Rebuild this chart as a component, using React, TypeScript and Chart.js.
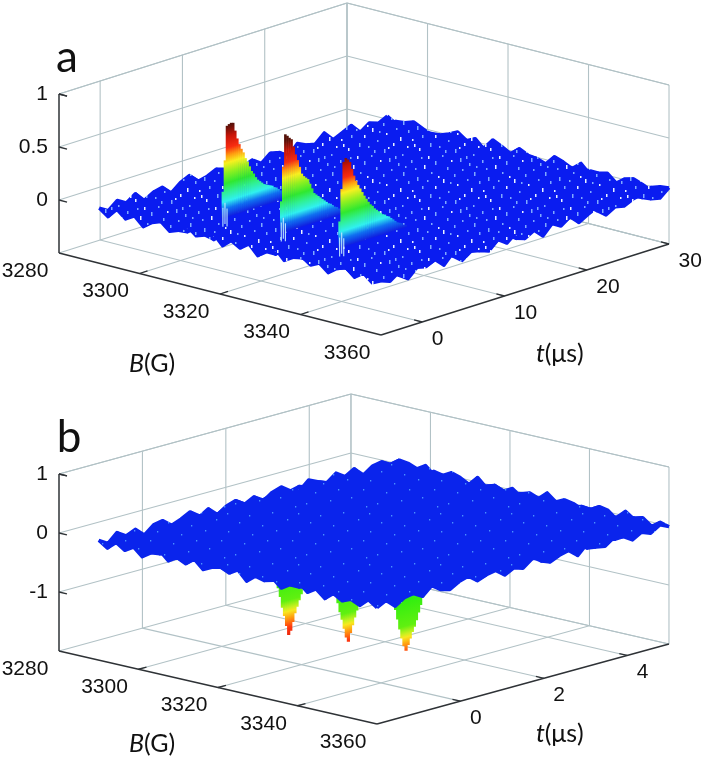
import React, { useEffect, useRef } from "react";
import { Chart, registerables } from "chart.js";
Chart.register(...registerables);

const bTicks = [3280, 3300, 3320, 3340, 3360];
const tTicksA = [0, 10, 20, 30];
const tTicksB = [0, 2, 4];
const zTicksA = [0, 0.5, 1];
const zTicksB = [-1, 0, 1];
const peakFieldsB = [3310.5, 3325, 3339.5];

// decay profiles of panel a, one value each 0.25 us from t = 0
const peakA1 = [.25,.54,.86,.87,.876,.87,.79,.71,.65,.6,.56,.5,.46,.41,.36,.33,.29,.26,.24,.22,.2,.19,.18,.17,.16,.14,.13,.11,.09,.07,.05,.04,.03];
const peakA2 = [.3,.62,.92,.9,.875,.855,.78,.7,.64,.57,.5,.47,.45,.43,.38,.33,.28,.26,.24,.22,.2,.18,.16,.14,.13,.11,.09,.08,.06,.05,.04,.03,.02];
const peakA3 = [.25,.55,.8,.83,.81,.78,.71,.64,.585,.54,.5,.46,.42,.385,.35,.32,.3,.27,.25,.23,.21,.19,.18,.16,.15,.13,.11,.09,.07,.06,.05,.03,.02];
// panel b, one value each 0.05 us from t = 0.3
const peakB1 = [-.7,-.92,-1.08,-1.27,-1.42,-1.6,-1.76,-1.7,-1.56,-1.42,-1.32,-1.22,-1.13,-1.05,-.95,-.82,-.7];
const peakB2 = [-.6,-.78,-.96,-1.12,-1.26,-1.42,-1.58,-1.66,-1.52,-1.4,-1.28,-1.17,-1.08,-.95,-.8,-.65,-.5];
const peakB3 = [-.55,-.72,-.85,-1.02,-1.2,-1.36,-1.5,-1.59,-1.5,-1.4,-1.3,-1.22,-1.12,-1,-.88,-.76,-.6];
// pale spikes at the rising edge of the peaks in panel a: t, lower z, upper z
const edgeSpikes = [[0, -.08, .1], [.25, -.06, .14], [.5, -.09, .08]];

// baseline of each surface, hundredths of a z unit; rows along B, columns along t
const surfaceA = [
[2,-3,4,-1,5,-4,1,3,-5,2,6,-2,0,4,-3,5,-1,2,-4,3,1,-5,4,0,-2,6,-3,1,5,-4,2,-1,3],
[-4,3,-2,6,0,-3,5,-1,2,-5,3,1,-4,6,2,-2,4,-5,1,3,-1,5,-3,2,6,-4,0,3,-2,4,-5,1,-2],
[5,-1,3,-5,2,4,-3,6,-2,1,-4,5,2,-1,3,-6,0,4,-2,5,-3,1,6,-4,2,-1,3,-5,4,0,-3,5,1],
[-2,4,-6,1,3,-2,5,-4,0,6,-1,3,-5,2,4,-3,6,-1,2,-4,5,0,-3,4,-2,5,1,-4,3,-6,2,-1,4],
[3,0,5,-3,-1,6,-4,2,5,-2,4,-6,1,3,-1,5,-3,2,6,-5,0,3,-2,5,-4,1,4,-1,-3,5,2,-4,0],
[-5,2,-1,4,6,-3,1,-2,4,-5,2,6,-3,0,5,-2,3,-4,1,4,-1,6,-5,2,3,-3,5,0,-2,4,-1,3,-4],
[1,6,-3,2,-5,4,0,5,-1,3,-4,1,5,-2,-3,6,-1,4,-5,2,3,-2,5,-1,-4,6,2,-3,1,-5,4,2,-2],
[4,-2,1,-4,3,-1,6,-3,2,-6,5,0,-2,4,1,-4,5,-3,3,-1,6,-4,0,3,5,-2,-1,4,-5,2,6,-3,1],
[-3,5,-2,0,4,-5,2,3,-4,1,6,-3,4,-1,-2,5,2,-5,4,0,-3,6,1,-4,2,5,-1,3,-6,1,4,-2,5],
[0,-4,6,3,-2,1,-5,4,6,-1,-3,5,2,-4,3,0,-6,5,1,-2,4,-3,5,2,-5,3,6,-2,1,-4,3,5,-1],
[6,1,-3,5,-4,2,3,-1,-5,4,2,-2,6,1,-4,3,5,-1,-3,6,-2,4,-5,0,3,-1,4,-5,2,6,-3,0,3],
[-1,3,5,-5,1,6,-2,0,4,-3,5,1,-4,3,6,-5,2,-1,4,-3,5,1,-2,6,-4,2,0,5,-3,3,-1,4,-5],
[2,-5,0,4,-2,3,5,-4,1,6,-2,-3,5,0,-1,4,-3,6,-5,2,1,-4,3,5,-1,-3,6,-2,4,-4,2,1,6],
[5,3,-4,-1,6,-3,1,4,-2,0,3,-5,4,2,-6,1,5,-2,3,-4,6,0,-1,4,2,-5,3,1,-3,5,-1,-4,2],
[-4,1,6,-2,3,5,-5,2,0,-3,6,4,-1,-4,5,2,-3,4,-1,5,-5,3,6,-2,1,4,-4,0,5,-2,3,6,-3],
[3,-1,2,5,-5,0,4,-3,6,1,-4,3,-2,5,-1,4,0,-5,6,-3,2,4,-4,1,5,-2,3,-1,-5,6,0,2,4],
[-2,6,-3,1,4,-4,2,5,-1,3,-5,0,6,-3,2,-4,5,3,-2,1,-6,5,2,-1,4,-3,5,2,-4,1,3,-5,0],
[4,0,5,-4,2,6,-1,-3,5,-2,1,4,-6,3,0,5,-1,-4,6,2,-3,1,-5,4,3,-1,6,-3,0,5,-2,4,-1],
[-5,3,-1,6,-3,1,5,-4,2,4,-1,6,-2,-3,5,1,-5,3,4,-1,5,-2,3,0,-4,6,1,-2,5,-3,4,1,-4],
[1,-4,4,2,-5,3,-2,6,0,-4,5,2,-3,6,-1,-5,4,2,-2,5,-1,6,-4,3,1,-3,5,-5,2,4,0,-3,5],
[6,2,-2,5,0,-3,4,1,-5,3,-1,5,1,-4,3,6,-2,0,5,-5,3,-1,4,-2,6,0,-4,3,5,-1,-3,6,2],
[-3,5,1,-4,6,2,-5,3,4,-2,6,-4,2,5,-3,1,4,-6,2,3,-1,5,0,-5,3,5,-2,4,-1,-4,6,1,-2],
[2,-1,6,-3,1,5,-2,-4,3,5,0,-3,6,-1,4,-5,2,5,-3,1,6,-4,2,5,-1,-3,4,0,3,-5,2,-1,5],
[5,-3,0,4,-5,2,6,1,-3,4,-5,2,3,-2,5,0,-4,6,1,-3,4,2,-5,3,-2,6,1,-4,5,2,-2,4,-3],
[-1,4,-5,2,3,-4,0,5,-1,6,2,-3,5,-4,1,3,6,-2,-5,4,0,5,-3,1,4,-5,2,6,-1,3,-4,5,0],
[3,-2,5,-1,6,-3,4,2,-5,1,-2,6,-1,3,-4,5,-2,4,2,-5,6,-1,3,-3,5,1,-2,4,-6,0,5,-3,2],
[-4,6,1,-3,2,5,-5,3,4,-1,5,-4,2,0,6,-3,1,-5,5,3,-2,4,-4,6,0,-2,5,-3,2,5,-1,3,-5],
[2,0,-4,5,-1,3,6,-2,1,-5,3,4,-3,6,-2,1,5,-4,0,6,-3,2,5,-1,-4,3,6,1,-5,3,4,-2,1],
[5,-5,3,1,-3,6,-1,4,-4,2,6,-2,5,1,-5,4,-1,3,-3,5,1,-5,2,4,-2,6,-3,2,4,-1,-4,5,3],
[-2,3,-1,6,4,-4,2,-3,5,0,-5,3,-1,4,2,-2,6,-5,4,1,-3,6,0,-4,5,2,-1,4,-5,6,2,-3,0],
[4,1,-5,2,-2,5,3,-5,1,6,-3,4,2,-4,5,-1,3,1,-6,4,3,-2,5,1,-3,4,-5,3,0,-2,5,1,-4],
[-3,5,2,-4,6,-1,-3,4,2,-2,5,-1,6,-5,3,2,-4,5,1,-3,6,-4,2,-1,5,-2,3,6,-4,1,-3,4,2],
[1,-2,4,-5,3,1,5,-3,6,-4,2,0,-3,5,-1,6,-2,3,-5,4,-1,5,-3,2,6,-4,1,-1,3,5,-2,-4,3],
];
const surfaceB = [
[3,-6,8,-2,5,-9,4,7,-5,1,9,-4,6,-8,2,7,-3,5,-7,4,9,-2,-6,8,1,-5,7,-3,6,-9,2,5,-4],
[-7,4,-3,9,-5,2,8,-6,3,-9,6,1,-4,8,-2,5,-8,3,7,-1,-6,9,4,-7,2,6,-3,8,-5,1,-8,4,7],
[6,-2,9,-7,1,8,-4,3,-8,5,-2,7,-9,4,6,-3,1,8,-5,3,-7,2,9,-4,5,-1,-8,6,3,-6,7,-2,5],
[-4,8,-1,3,-8,6,2,-7,9,-3,4,-6,8,1,-5,9,-7,2,6,-4,5,-9,3,7,-2,8,-6,1,9,-3,-7,5,-1],
[5,1,-7,6,-3,9,-5,4,-1,7,-8,3,2,-6,9,-2,4,-9,1,8,-3,6,-5,2,-8,4,9,-1,-4,7,3,-6,8],
[-8,6,3,-5,8,-1,-6,9,2,-4,6,-9,5,7,-3,1,-6,7,4,-8,2,5,-2,9,-6,3,-4,7,-9,2,6,-1,-5],
[2,-4,7,1,-9,4,6,-3,5,-8,2,8,-1,-5,4,9,-7,-2,6,3,-9,8,1,-5,7,-3,5,-7,1,8,-4,9,-2],
[9,-1,-5,8,3,-6,1,7,-9,4,-2,6,-7,3,8,-5,2,6,-3,-7,5,1,-8,6,2,-9,4,3,-6,5,-2,-8,6],
[-5,7,2,-8,4,5,-9,2,6,-3,8,-5,1,9,-6,3,-1,-8,7,4,-2,9,-6,3,-4,8,-1,5,-7,2,9,-3,1],
[4,-9,6,-1,-4,8,3,-6,1,9,-7,2,5,-3,-8,6,7,-4,2,-9,6,3,-5,8,1,-6,9,-2,4,-8,3,6,-7],
[-3,2,8,-6,7,-2,5,-8,4,-1,3,9,-6,2,7,-4,-9,5,1,8,-5,-3,7,-1,6,-8,2,9,-4,6,-1,-5,8],
[8,-5,1,4,-7,6,-3,9,-2,-6,7,-4,3,-9,5,1,8,-2,-6,3,9,-7,2,5,-3,7,-9,4,1,-5,8,2,-6],
[-6,3,-8,9,2,-5,8,-1,-7,5,1,-3,9,6,-2,-7,4,9,-5,-1,6,4,-8,3,9,-2,5,-6,8,-3,-7,4,1],
[1,7,-4,-2,6,-9,3,5,-4,8,-6,2,-1,7,-8,4,5,-3,8,-6,2,-4,9,-7,1,6,-3,-8,3,7,-2,9,-5],
[5,-8,3,7,-6,1,-2,8,6,-9,2,5,-7,4,-1,9,-5,3,-8,6,1,-9,5,2,-6,4,8,-1,-5,9,4,-6,3],
[-2,6,-9,1,4,7,-8,-3,5,3,-7,8,4,-5,2,-9,6,1,-4,7,-3,8,-1,-6,5,-9,3,7,-2,-4,6,1,-8],
[7,-3,5,-7,9,-4,2,6,-1,-8,4,-2,9,-6,3,7,-2,-8,5,3,-6,2,6,-5,9,1,-7,4,-3,8,-9,5,2],
[-9,4,1,6,-2,-6,8,-5,3,7,-4,1,-8,5,6,-3,9,-7,2,-1,8,-5,3,7,-4,2,6,-9,5,1,-3,7,-4],
[3,8,-6,-3,5,2,-7,4,9,-5,1,6,-3,-9,7,2,-5,4,8,-6,3,-2,9,-8,4,-1,5,2,-7,6,-4,-1,9],
[-1,-5,7,4,-9,8,1,-6,2,-3,9,-7,5,3,-4,8,-1,-6,3,9,-8,6,-4,1,7,-5,-2,8,3,-9,5,7,-3],
[6,2,-3,8,-5,-1,7,3,-9,6,-2,4,-6,8,1,-5,4,7,-9,2,5,-3,8,-6,2,9,-4,1,-8,6,2,-5,4],
[-7,5,9,-4,2,6,-8,4,1,-5,8,-1,3,-7,9,-2,6,-3,5,-8,1,7,-2,4,-9,3,7,-5,6,-2,8,-6,1],
[2,-6,3,1,-8,5,-3,9,-6,7,2,-9,6,4,-3,-7,8,1,-5,6,-4,9,-7,3,5,-1,-8,4,2,-6,9,3,-5],
[9,-2,-7,6,3,-4,7,-1,4,-8,5,3,-2,-6,8,5,-9,3,7,-2,-7,2,6,-5,1,8,-3,6,-9,4,-1,7,-2],
[-4,7,4,-9,1,8,-5,2,-7,3,9,-4,7,-1,-5,2,6,-8,-1,9,4,-6,3,8,-7,5,-2,-4,7,1,-8,5,6],
[5,-3,-6,2,7,-2,6,-9,8,-1,-5,6,1,-8,4,-3,9,5,-6,3,-9,7,1,-3,6,-8,4,9,-5,-2,6,-7,3],
[-8,1,8,-5,4,-7,3,5,-3,6,-9,2,8,5,-6,7,-4,1,8,-3,5,-1,-7,9,2,-4,6,-2,1,7,-6,3,-9],
[4,6,-2,9,-6,1,-4,7,2,-5,4,7,-3,-9,3,6,-1,-7,2,5,-8,6,4,-5,8,-6,1,7,-3,-8,4,2,8],
[-5,-1,7,-4,8,3,-9,1,6,-7,3,-2,9,2,-5,8,-6,4,-3,9,1,-4,7,-9,3,5,-7,2,8,-1,5,-6,-2],
[1,9,-8,3,-2,6,5,-7,4,8,-6,1,-4,7,-8,3,5,-9,6,-2,7,-5,2,6,-2,9,-4,-6,4,3,-9,8,4],
[-6,3,5,-7,6,-3,-5,8,-2,4,7,-8,5,-1,2,9,-3,6,-7,1,4,8,-6,-1,7,-3,5,8,-5,6,1,-4,-7],
[7,-4,2,6,-1,8,-7,3,9,-6,1,4,-9,6,3,-5,7,-2,3,-8,6,-3,9,2,-7,4,-1,-5,9,-3,7,-2,3],
[-3,5,-9,1,4,-5,9,-2,-6,3,8,-4,2,5,-7,1,-4,8,4,-6,1,5,-8,7,-2,-5,6,3,-7,2,-4,6,-1],
];

// mesh-gap texture of each surface: x, y, height of a light fleck inside one tile
const flecksA = [[2,3,3],[5,19,2],[9,8,4],[9,33,3],[13,44,2],[16,2,2],[17,26,4],[21,14,3],[22,38,2],[25,7,2],[28,21,3],[29,47,4],[31,31,2],[34,5,4],[36,16,2],[38,41,3],[41,26,2],[43,10,3],[45,35,4],[47,1,2],[48,19,4],[52,44,2],[53,28,3],[56,7,3],[57,37,2],[60,15,2],[62,24,4],[64,46,3],[66,4,2],[67,33,3],[69,12,4],[1,27,2],[4,41,4],[12,23,2],[19,48,3],[24,29,2],[33,45,2],[40,3,3],[50,13,2],[59,42,3]];
const flecksB = [[3,9],[8,30],[14,3],[15,21],[22,44],[26,12],[31,33],[36,5],[39,24],[46,41],[49,15],[54,30],[59,2],[63,20],[67,38],[11,47]];

const panelA = {
  corner: [59, 253], perB: [4.025, 1.025], perT: [8.229, -2.6], perZ: -106,
  bMin: 3280, tMin: -5, tMax: 30, zMin: -0.5, zMax: 1,
  surfaceBMin: 3290, surfaceBMax: 3360,
  color: "#0a1cf0", width: 3.2, tStep: 0.25, tFirst: 0, stemWidth: 2.6, gradTo: 1,
  stops: [[0,"#1020e0"],[.08,"#1070f0"],[.15,"#30f0f0"],[.24,"#30f090"],[.32,"#30e830"],[.42,"#90f020"],[.51,"#f8f020"],[.58,"#ff9a10"],[.65,"#f82c10"],[.76,"#c81408"],[.86,"#5a1008"],[1,"#401008"]] as [number,string][],
};
const panelB = {
  corner: [59, 651], perB: [3.975, 0.9125], perT: [41.71, -11.43], perZ: -59,
  bMin: 3280, tMin: -2, tMax: 5, zMin: -2, zMax: 1,
  surfaceBMin: 3290, surfaceBMax: 3360,
  color: "#0a24ec", width: 3.2, tStep: 0.05, tFirst: 0.3, stemWidth: 3.2, gradTo: -1.9,
  stops: [[0,"#1430d8"],[-.55,"#30e8a0"],[-.72,"#30ee10"],[-1.17,"#60f010"],[-1.3,"#c8f020"],[-1.36,"#f8e820"],[-1.47,"#ffa010"],[-1.63,"#ff3810"],[-1.9,"#d81808"]] as [number,string][],
};

type Panel = typeof panelA;
const project = (p: Panel, B: number, t: number, z: number) => ({
  x: p.corner[0] + (B - p.bMin) * p.perB[0] + (t - p.tMin) * p.perT[0],
  y: p.corner[1] + (B - p.bMin) * p.perB[1] + (t - p.tMin) * p.perT[1] + (z - p.zMin) * p.perZ,
});

function tilePattern(base: string, draw: (c: CanvasRenderingContext2D) => void) {
  const tile = document.createElement("canvas");
  tile.width = 71;
  tile.height = 51;
  const c = tile.getContext("2d")!;
  c.fillStyle = base;
  c.fillRect(0, 0, 71, 51);
  draw(c);
  return c.createPattern(tile, "repeat")!;
}

const GRID = "#b2c2c6";
const AXIS = "#2e3236";
function segment(p: Panel, a: number[], b: number[], color: string, width: number) {
  return {
    data: [project(p, a[0], a[1], a[2]), project(p, b[0], b[1], b[2])],
    borderColor: color, borderWidth: width, pointRadius: 0, borderCapStyle: "butt",
  };
}
function frame(p: Panel, tTicks: number[], zTicks: number[]) {
  const out: any[] = [];
  const bMax = 3360;
  for (const z of [p.zMin, ...zTicks, p.zMax]) {
    out.push(segment(p, [p.bMin, p.tMin, z], [p.bMin, p.tMax, z], GRID, 1.1));
    out.push(segment(p, [p.bMin, p.tMax, z], [bMax, p.tMax, z], GRID, 1.1));
  }
  for (const t of [...tTicks, p.tMax]) {
    out.push(segment(p, [p.bMin, t, p.zMin], [p.bMin, t, p.zMax], GRID, 1.1));
    out.push(segment(p, [p.bMin, t, p.zMin], [bMax, t, p.zMin], GRID, 1.1));
  }
  for (const B of bTicks) {
    out.push(segment(p, [B, p.tMax, p.zMin], [B, p.tMax, p.zMax], GRID, 1.1));
    if (B > p.bMin && B < bMax) out.push(segment(p, [B, p.tMin, p.zMin], [B, p.tMax, p.zMin], GRID, 1.1));
  }
  return out;
}
function axes(p: Panel, tTicks: number[], zTicks: number[]) {
  const out: any[] = [];
  const bMax = 3360;
  const dT = 8 / p.perT[0];
  out.push(segment(p, [p.bMin, p.tMin, p.zMin], [bMax, p.tMin, p.zMin], AXIS, 1.5));
  out.push(segment(p, [bMax, p.tMin, p.zMin], [bMax, p.tMax, p.zMin], AXIS, 1.5));
  out.push(segment(p, [p.bMin, p.tMin, p.zMin], [p.bMin, p.tMin, p.zMax], AXIS, 1.5));
  for (const z of [...zTicks, p.zMax]) out.push(segment(p, [p.bMin, p.tMin, z], [p.bMin + 2, p.tMin, z], AXIS, 1.3));
  for (const B of bTicks.slice(1, -1)) out.push(segment(p, [B, p.tMin, p.zMin], [B, p.tMin + dT, p.zMin], AXIS, 1.3));
  for (const t of tTicks) out.push(segment(p, [bMax, t, p.zMin], [bMax - 2, t, p.zMin], AXIS, 1.3));
  return out;
}
function mesh(p: Panel, table: number[][], stroke: any) {
  const out: any[] = [];
  const nB = table.length, nT = table[0].length;
  const at = (i: number, j: number) => project(p,
    p.surfaceBMin + (i / (nB - 1)) * (p.surfaceBMax - p.surfaceBMin),
    p.tMin + (j / (nT - 1)) * (p.tMax - p.tMin),
    (table[i][j] ?? 0) / 100);
  const line = (data: any[]) => ({ data, borderColor: stroke, borderWidth: p.width, pointRadius: 0, borderJoinStyle: "round", tension: 0 });
  // the sheet under the mesh follows the outer edge of the table
  const rim: any[] = [];
  for (let j = 0; j < nT; j++) rim.push(at(0, j));
  for (let i = 1; i < nB; i++) rim.push(at(i, nT - 1));
  for (let j = nT - 2; j >= 0; j--) rim.push(at(nB - 1, j));
  for (let i = nB - 2; i > 0; i--) rim.push(at(i, 0));
  out.push({ ...line(rim), fill: "shape", backgroundColor: stroke, borderWidth: 0 });
  for (let i = 0; i < nB; i++) out.push(line(table[i].map((_, j) => at(i, j))));
  for (let j = 0; j < nT; j++) out.push(line(table.map((_, i) => at(i, j))));
  return out;
}
function stems(p: Panel, B: number, profile: number[]) {
  return profile.map((z, k) => {
    const t = p.tFirst + k * p.tStep;
    const foot = project(p, B, t, 0);
    const tip = project(p, B, t, z);
    const end = project(p, B, t, p.gradTo);
    return {
      data: [foot, tip], borderWidth: p.stemWidth, pointRadius: 0, borderCapStyle: "butt",
      borderColor: (ctx: any) => {
        const g = ctx.chart.ctx.createLinearGradient(0, foot.y, 0, end.y);
        for (const [v, col] of p.stops) g.addColorStop(Math.min(1, v / p.gradTo), col);
        return g;
      },
    };
  });
}
function spikes(p: Panel) {
  const out: any[] = [];
  for (const B of peakFieldsB) {
    for (const [t, lo, hi] of edgeSpikes) out.push(segment(p, [B, t, lo], [B, t, hi], "#bfe6ff", 1.1));
  }
  return out;
}

type Lab = { text: string; x: number; y: number; align?: CanvasTextAlign; font?: string; parts?: [string, string][] };
const TICK_FONT = '21px "Liberation Sans", Arial, sans-serif';
function tickLabels(p: Panel, tTicks: number[], zTicks: number[]): Lab[] {
  const out: Lab[] = [];
  for (const z of zTicks) {
    const q = project(p, p.bMin, p.tMin, z);
    out.push({ text: String(z), x: q.x - 11, y: q.y, align: "right" });
  }
  for (const B of bTicks) {
    const q = project(p, B, p.tMin, p.zMin);
    out.push({ text: String(B), x: q.x - 34, y: q.y + 18, align: "center" });
  }
  for (const t of tTicks) {
    const q = project(p, 3360, t, p.zMin);
    out.push({ text: String(t), x: q.x + 9.5, y: q.y + 17, align: "left" });
  }
  return out;
}
const LETTER_FONT = '44px Lato, "Noto Sans", sans-serif';
const AXIS_ITALIC = 'italic 25px Lato, "Noto Sans", sans-serif';
const AXIS_PLAIN = '25px Lato, "Noto Sans", sans-serif';
const labels: Lab[] = [
  ...tickLabels(panelA, tTicksA, zTicksA),
  ...tickLabels(panelB, tTicksB, zTicksB),
  { text: "a", x: 67, y: 58, align: "center", font: LETTER_FONT },
  { text: "b", x: 69, y: 438, align: "center", font: LETTER_FONT },
  { text: "", x: 129, y: 364, parts: [["B", AXIS_ITALIC], ["(G)", AXIS_PLAIN]] },
  { text: "", x: 536, y: 354, parts: [["t", AXIS_ITALIC], ["(μs)", AXIS_PLAIN]] },
  { text: "", x: 129, y: 744, parts: [["B", AXIS_ITALIC], ["(G)", AXIS_PLAIN]] },
  { text: "", x: 536, y: 734, parts: [["t", AXIS_ITALIC], ["(μs)", AXIS_PLAIN]] },
];

const textPlugin = {
  id: "panelText",
  afterDatasetsDraw(chart: any) {
    const { ctx, scales } = chart;
    ctx.save();
    ctx.fillStyle = "#111";
    ctx.textBaseline = "middle";
    for (const l of labels) {
      let x = scales.x.getPixelForValue(l.x);
      const y = scales.y.getPixelForValue(l.y);
      if (l.parts) {
        ctx.textAlign = "left";
        for (const [s, f] of l.parts) {
          ctx.font = f;
          ctx.fillText(s, x, y);
          x += ctx.measureText(s).width;
        }
      } else {
        ctx.textAlign = l.align ?? "left";
        ctx.font = l.font ?? TICK_FONT;
        ctx.fillText(l.text, x, y);
      }
    }
    ctx.restore();
  },
};

export default function App() {
  const ref = useRef<HTMLCanvasElement>(null);
  useEffect(() => {
    const textureA = tilePattern(panelA.color, (c) => {
      flecksA.forEach(([x, y, h], k) => {
        c.fillStyle = k % 3 === 0 ? "#eaf2ff" : "#7fa8ff";
        c.fillRect(x, y, 1.5, h);
      });
    });
    const textureB = tilePattern(panelB.color, (c) => {
      c.fillStyle = "#4a90ff";
      flecksB.forEach(([x, y]) => c.fillRect(x, y, 1.3, 1.5));
    });
    const painted: any[] = [
      ...frame(panelA, tTicksA, zTicksA),
      ...axes(panelA, tTicksA, zTicksA),
      ...mesh(panelA, surfaceA, textureA),
      ...stems(panelA, peakFieldsB[0], peakA1),
      ...stems(panelA, peakFieldsB[1], peakA2),
      ...stems(panelA, peakFieldsB[2], peakA3),
      ...spikes(panelA),
      ...frame(panelB, tTicksB, zTicksB),
      ...axes(panelB, tTicksB, zTicksB),
      ...stems(panelB, peakFieldsB[0], peakB1),
      ...stems(panelB, peakFieldsB[1], peakB2),
      ...stems(panelB, peakFieldsB[2], peakB3),
      ...mesh(panelB, surfaceB, textureB),
    ];
    const chart = new Chart(ref.current!, {
      type: "scatter",
      data: { datasets: painted.reverse().map((d) => ({ showLine: true, fill: false, ...d })) },
      options: {
        responsive: false,
        animation: false,
        events: [],
        layout: { padding: 0 },
        plugins: { legend: { display: false }, tooltip: { enabled: false } },
        scales: {
          x: { type: "linear", min: 0, max: 703, display: false },
          y: { type: "linear", min: 0, max: 758, reverse: true, display: false },
        },
      },
      plugins: [textPlugin],
    } as any);
    return () => chart.destroy();
  }, []);
  return (
    <div style={{ position: "absolute", left: 0, top: 0, width: 703, height: 758, background: "#fff" }}>
      <canvas ref={ref} width={703} height={758} style={{ display: "block" }} />
    </div>
  );
}
